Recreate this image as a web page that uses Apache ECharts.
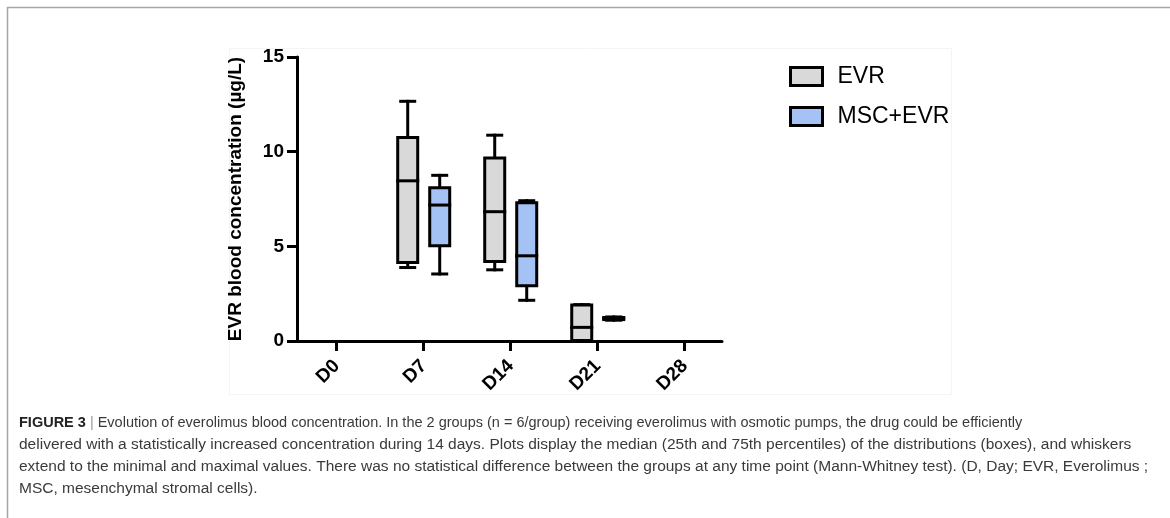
<!DOCTYPE html>
<html>
<head>
<meta charset="utf-8">
<script src="https://cdn.jsdelivr.net/npm/echarts@6/dist/echarts.min.js"></script>
<style>
html,body{margin:0;padding:0;background:#fff;}
#chart{width:1170px;height:518px;}
</style>
</head>
<body>
<div id="chart"></div>
<script>
// ---- data ----
var days = [0, 7, 14, 21, 28];
var dayLabels = ['D0', 'D7', 'D14', 'D21', 'D28'];
var yTicks = [0, 5, 10, 15];
// [day, min, Q1, median, Q3, max]
var evrBoxes = [
  [7, 3.88, 4.15, 8.46, 10.75, 12.66],
  [14, 3.76, 4.20, 6.83, 9.67, 10.87],
  [21, 0.00, 0.02, 0.72, 1.90, 1.92]
];
var mscBoxes = [
  [7, 3.54, 5.03, 7.18, 8.09, 8.75],
  [14, 2.15, 2.92, 4.50, 7.30, 7.41],
  [21, 1.10, 1.13, 1.19, 1.24, 1.27]
];
var seriesNames = ['EVR', 'MSC+EVR'];
var seriesColors = ['#d9d9d9', '#a4c2f4'];
var captionLines = [
  'Evolution of everolimus blood concentration. In the 2 groups (n = 6/group) receiving everolimus with osmotic pumps, the drug could be efficiently',
  'delivered with a statistically increased concentration during 14 days. Plots display the median (25th and 75th percentiles) of the distributions (boxes), and whiskers',
  'extend to the minimal and maximal values. There was no statistical difference between the groups at any time point (Mann-Whitney test). (D, Day; EVR, Everolimus ;',
  'MSC, mesenchymal stromal cells).'
];

var chart = echarts.init(document.getElementById('chart'), null, {renderer: 'canvas'});

function makeRender(offsetPx, fill) {
  return function (params, api) {
    var x = api.value(0);
    var cMin = api.coord([x, api.value(1)]);
    var cQ1 = api.coord([x, api.value(2)]);
    var cMed = api.coord([x, api.value(3)]);
    var cQ3 = api.coord([x, api.value(4)]);
    var cMax = api.coord([x, api.value(5)]);
    var cx = cMin[0] + offsetPx;
    var bw = 20, cap = 7;
    var ls = {stroke: '#000', lineWidth: 3, lineCap: 'square'};
    return {
      type: 'group',
      children: [
        {type: 'line', shape: {x1: cx, y1: cQ3[1], x2: cx, y2: cMax[1]}, style: ls},
        {type: 'line', shape: {x1: cx - cap, y1: cMax[1], x2: cx + cap, y2: cMax[1]}, style: ls},
        {type: 'line', shape: {x1: cx, y1: cMin[1], x2: cx, y2: cQ1[1]}, style: ls},
        {type: 'line', shape: {x1: cx - cap, y1: cMin[1], x2: cx + cap, y2: cMin[1]}, style: ls},
        {type: 'rect', shape: {x: cx - bw / 2, y: cQ3[1], width: bw, height: cQ1[1] - cQ3[1]},
          style: {fill: fill, stroke: '#000', lineWidth: 3}},
        {type: 'line', shape: {x1: cx - bw / 2, y1: cMed[1], x2: cx + bw / 2, y2: cMed[1]}, style: ls}
      ]
    };
  };
}

var font = '"Liberation Sans", Arial, Helvetica, sans-serif';
var gridLeft = 297, gridRight = 722, gridTop = 57, gridBottom = 341;
var pxPerDay = 12.43, d0 = 336.7;

var captionGraphics = [];
var capY = [423, 445, 467, 489];
var capSize = [14.5, 15.5, 15.5, 15.5];
captionGraphics.push({
  type: 'text', x: 19, y: capY[0],
  style: {
    text: '{b|FIGURE 3} {s||} ' + captionLines[0],
    rich: {
      b: {fontFamily: font, fontSize: capSize[0], fontWeight: 'bold', fill: '#222'},
      s: {fontFamily: font, fontSize: capSize[0], fill: '#999'}
    },
    verticalAlign: 'middle',
    fontFamily: font, fontSize: capSize[0], fill: '#3a3a3a'
  }
});
for (var i = 1; i < captionLines.length; i++) {
  captionGraphics.push({
    type: 'text', x: 19, y: capY[i],
    style: {text: captionLines[i], verticalAlign: 'middle', fontFamily: font, fontSize: capSize[i], fill: '#3a3a3a'}
  });
}

var option = {
  animation: false,
  backgroundColor: '#fff',
  grid: {left: gridLeft, right: 1170 - gridRight, top: gridTop, bottom: 518 - gridBottom, containLabel: false},
  xAxis: {
    type: 'value',
    min: -(d0 - gridLeft) / pxPerDay,
    max: (gridRight - d0) / pxPerDay,
    splitLine: {show: false},
    axisLine: {onZero: false, lineStyle: {color: '#000', width: 3}},
    axisTick: {show: true, length: 10, lineStyle: {color: '#000', width: 3}, customValues: days},
    axisLabel: {
      customValues: days,
      rotate: 45, margin: 22,
      fontFamily: font, fontSize: 19, fontWeight: 'bold', color: '#000',
      formatter: function (v) { return dayLabels[days.indexOf(Math.round(v))] || ''; }
    }
  },
  yAxis: {
    type: 'value', min: 0, max: 15, interval: 5,
    name: 'EVR blood concentration (µg/L)',
    nameLocation: 'middle', nameGap: 52,
    nameTextStyle: {fontFamily: font, fontSize: 19, fontWeight: 'bold', color: '#000'},
    splitLine: {show: false},
    axisLine: {show: true, onZero: false, lineStyle: {color: '#000', width: 3}},
    axisTick: {show: true, length: 10, lineStyle: {color: '#000', width: 3}},
    axisLabel: {margin: 13, fontFamily: font, fontSize: 19, fontWeight: 'bold', color: '#000',
      formatter: function (v) { return yTicks.indexOf(v) >= 0 ? String(v) : ''; }}
  },
  legend: {
    orient: 'vertical', left: 789, top: 65, padding: 0,
    itemWidth: 32, itemHeight: 18, itemGap: 17,
    textStyle: {fontFamily: font, fontSize: 23, color: '#000', lineHeight: 23, padding: [0, 0, 0, 10]},
    data: [
      {name: seriesNames[0], icon: 'rect', itemStyle: {color: seriesColors[0], borderColor: '#000', borderWidth: 3}},
      {name: seriesNames[1], icon: 'rect', itemStyle: {color: seriesColors[1], borderColor: '#000', borderWidth: 3}}
    ]
  },
  graphic: [
    {type: 'polyline', shape: {points: [[7.5, 518], [7.5, 7.5], [1170, 7.5]]}, style: {stroke: '#a6a6a6', lineWidth: 1.5, fill: null}, silent: true},
    {type: 'rect', shape: {x: 229.5, y: 48.5, width: 722, height: 346}, style: {stroke: '#f4f4f4', fill: null, lineWidth: 1}, silent: true, z: -1}
  ].concat(captionGraphics),
  series: [
    {name: seriesNames[0], type: 'custom', renderItem: makeRender(-16, seriesColors[0]),
      itemStyle: {color: seriesColors[0]}, encode: {x: 0, y: [1, 2, 3, 4, 5]}, data: evrBoxes, clip: false},
    {name: seriesNames[1], type: 'custom', renderItem: makeRender(16, seriesColors[1]),
      itemStyle: {color: seriesColors[1]}, encode: {x: 0, y: [1, 2, 3, 4, 5]}, data: mscBoxes, clip: false}
  ]
};
chart.setOption(option);
</script>
</body>
</html>
